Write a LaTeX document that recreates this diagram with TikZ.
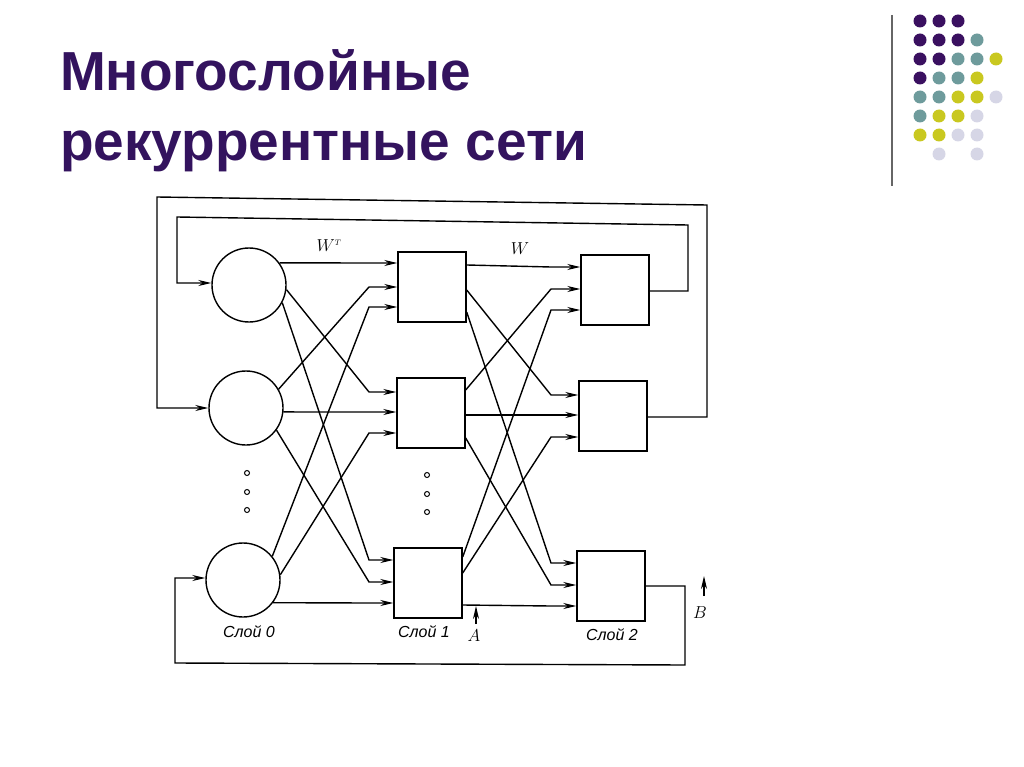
\documentclass[tikz,border=0pt]{standalone}
\usepackage{fontspec}
\setmainfont{Liberation Sans}
\usetikzlibrary{arrows.meta}
\definecolor{titlecol}{HTML}{33135E}
\definecolor{dotP}{HTML}{3A1060}
\definecolor{dotT}{HTML}{6E9B9C}
\definecolor{dotY}{HTML}{C9C820}
\definecolor{dotL}{HTML}{D6D6E6}
\tikzset{
  neuron/.style={draw, circle, minimum size=74pt, inner sep=0pt},
  unit/.style={draw, rectangle, minimum width=68pt, minimum height=70pt, inner sep=0pt},
  arr/.style={-{Stealth[length=13pt,width=6pt]}},
  lbl/.style={font=\itshape\fontsize{16}{16}\selectfont}
}
\begin{document}
\begin{tikzpicture}[x=1pt,y=-1pt,line width=1.4pt]
\useasboundingbox (0,0) rectangle (1024,767);
% title
\node[anchor=north west, align=left, text=titlecol, font=\bfseries\fontsize{55}{70}\selectfont] (title) at (56,46) {Многослойные\\рекуррентные сети};
\draw[gray!80!black, line width=1.2pt] (892,15) -- (892,186);
\foreach \row/\cols in {0/{P,P,P},1/{P,P,P,T},2/{P,P,T,T,Y},3/{P,T,T,Y},4/{T,T,Y,Y,L},5/{T,Y,Y,L},6/{Y,Y,L,L}}
  \foreach [count=\i] \c in \cols
    \fill[dot\c] ({920+19*(\i-1)},{21+19*\row}) circle (6.5);
\fill[dotL] (939,154) circle (6.5);
\fill[dotL] (977,154) circle (6.5);

% layer 0
\node[neuron] (c1) at (249,285) {};
\node[neuron] (c2) at (246,408) {};
\node[neuron] (c3) at (243,580) {};
% layer 1
\node[unit] (b1) at (432,287) {};
\node[unit] (b2) at (431,413) {};
\node[unit] (b3) at (428,583) {};
% layer 2
\node[unit] (d1) at (615,290) {};
\node[unit] (d2) at (613,416) {};
\node[unit] (d3) at (611,586) {};

\foreach \y in {473,492,510} \draw[line width=1pt] (247,\y) circle (2.5);
\foreach \y in {475,494,512} \draw[line width=1pt] (427,\y) circle (2.5);

% layer 0 -> layer 1
\foreach \src/\ang/\dst/\yy in {c1/36/b1/263, c2/30/b1/287, c3/39/b1/307,
    c1/-7/b2/392, c2/-6/b2/412, c3/8/b2/433,
    c1/-28/b3/560, c2/-36/b3/582, c3/-37/b3/603}
  \draw[arr] (\src.\ang) -- (369,\yy) -- (\dst.west |- 0,\yy);
% layer 1 -> layer 2
\foreach \src/\ys/\dst/\yy in {b1/265/d1/267, b2/390/d1/289, b3/557/d1/310,
    b1/290/d2/395, b2/415/d2/415, b3/573/d2/437,
    b1/312/d3/563, b2/438/d3/585, b3/605/d3/606}
  \draw[arr] (\src.east |- 0,\ys) -- (551,\yy) -- (\dst.west |- 0,\yy);

% feedback
\draw[arr] (d2.east |- 0,417) -- (707,417) -- (707,205) -- (157,197) -- (157,408) -- (c2.west);
\draw[arr] (d1.east |- 0,291) -- (688,291) -- (688,225) -- (177,217) -- (177,283) -- (c1.west |- 0,283);
\draw[arr] (d3.east |- 0,586) -- (685,586) -- (685,665) -- (175,663) -- (175,578) -- (c3.west |- 0,578);

% labels
\node[lbl] (wt) at (329,246) {$W^{\scriptscriptstyle T}$};
\node[lbl] (w) at (520,249) {$W$};
\node[lbl] (l0) at (249,632) {Слой 0};
\node[lbl] (l1) at (424,632) {Слой 1};
\node[lbl] (l2) at (612,635) {Слой 2};
\coordinate (a0) at (476,624);
\coordinate (a1) at (476,606);
\draw[arr] (a0) -- (a1);
\node[lbl] (la) at (474,636) {$A$};
\coordinate (bb0) at (704,596);
\coordinate (bb1) at (704,576);
\draw[arr] (bb0) -- (bb1);
\node[lbl] (lb) at (700,613) {$B$};
\end{tikzpicture}
\end{document}
